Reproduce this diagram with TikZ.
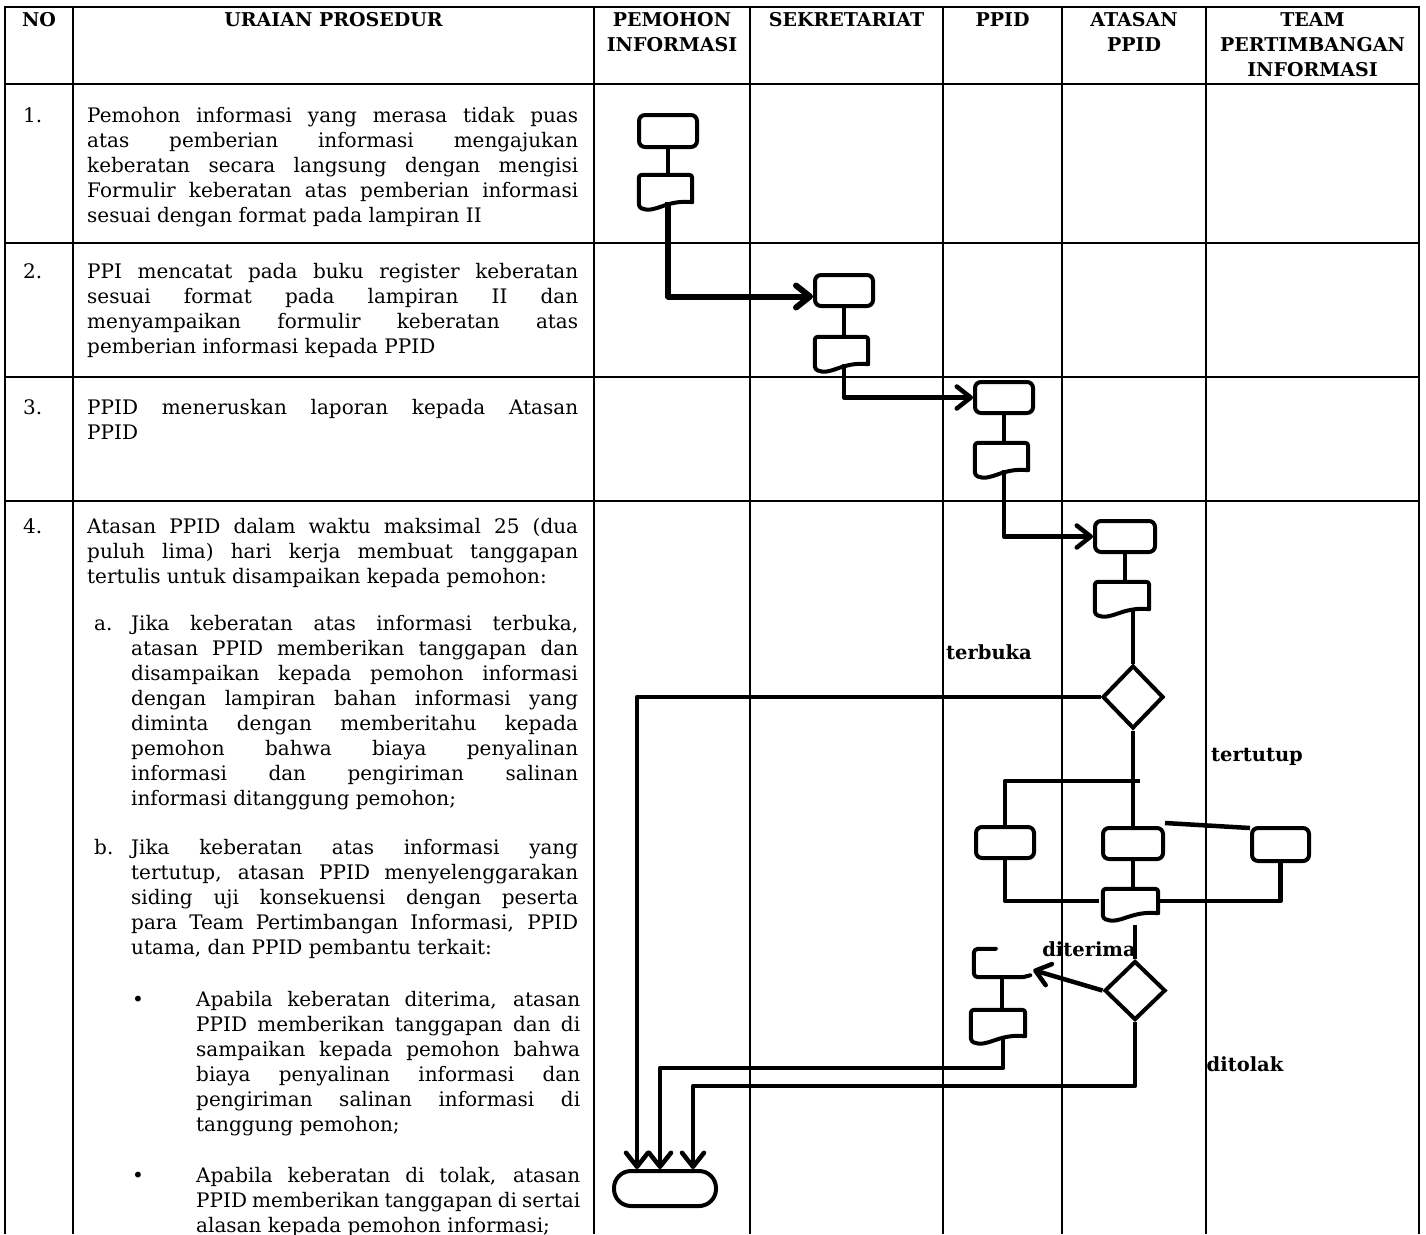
\documentclass[tikz,border=0pt]{standalone}
\usepackage{fontspec}
\setmainfont{DejaVu Serif}
\usetikzlibrary{arrows.meta,shapes.geometric,calc}
\setlength{\parindent}{0pt}
\tolerance=9999
\hyphenpenalty=10000
\exhyphenpenalty=10000
\hfuzz=20pt
\newcommand\bodyfont{\fontsize{20}{25}\selectfont}
\newcommand\hdfont{\bfseries\fontsize{19}{22}\selectfont}
\newcommand\lblfont{\bfseries\fontsize{19.5}{21}\selectfont}
\newcommand\para[5]{\node[paratext, text width=#4pt] (#1) at (#2,{#3-17.5}) {\strut #5};}
\newcommand\docpath[1]{\draw[shp, rounded corners=3pt] (#1.south east) -- (#1.north east) -- (#1.north west) -- ($(#1.south west)+(0,5)$) [sharp corners] .. controls ($(#1.south west)!0.3!(#1.south east)+(0,12)$) and ($(#1.south west)!0.5!(#1.south east)+(0,-3)$) .. (#1.south east) -- cycle;}
\tikzset{
  gridline/.style={line width=2pt},
  hd/.style={font=\hdfont, anchor=base, inner sep=0pt},
  num/.style={font=\bodyfont, anchor=base west, inner sep=0pt},
  paratext/.style={anchor=north west, inner sep=0pt, align=justify, font=\bodyfont},
  lbl/.style={font=\lblfont, inner sep=0pt},
  shp/.style={line width=4pt, line join=round, line cap=round},
  fbox/.style={draw, line width=4pt, rounded corners=6pt, inner sep=0pt},
  docbox/.style={inner sep=0pt},
  flow/.style={line width=4.5pt, line join=round},
  flowthick/.style={line width=6pt, line join=round},
  arr/.style={-{Straight Barb[length=14pt,width=22pt,round]}},
}
\begin{document}
\begin{tikzpicture}[x=1pt,y=-1pt]
\useasboundingbox (0,0) rectangle (1426,1234);
% ---------------- table grid
\draw[gridline] (5,1234) -- (5,7) -- (1419,7) -- (1419,1234);
\foreach \xx in {73,594,750,943,1062,1206} \draw[gridline] (\xx,7) -- (\xx,1234);
\foreach \yy in {84,243,377,501} \draw[gridline] (5,\yy) -- (1419,\yy);
% ---------------- header
\node[hd] (hNo) at (39,26) {NO};
\node[hd] (hUr) at (333.5,26) {URAIAN PROSEDUR};
\node[hd] (hPa) at (672,26) {PEMOHON};
\node[hd] (hPb) at (672,51) {INFORMASI};
\node[hd] (hSe) at (846.5,26) {SEKRETARIAT};
\node[hd] (hPp) at (1002.5,26) {PPID};
\node[hd] (hAa) at (1134,26) {ATASAN};
\node[hd] (hAb) at (1134,51) {PPID};
\node[hd] (hTa) at (1312.5,26) {TEAM};
\node[hd] (hTb) at (1312.5,51) {PERTIMBANGAN};
\node[hd] (hTc) at (1312.5,76) {INFORMASI};
% ---------------- numbers
\node[num] (n1) at (23,122) {1.};
\node[num] (n2) at (23,278) {2.};
\node[num] (n3) at (23,414) {3.};
\node[num] (n4) at (23,533) {4.};
% ---------------- procedure texts
\para{t1}{87}{122}{491}{Pemohon informasi yang merasa tidak puas\linebreak atas pemberian informasi mengajukan\linebreak keberatan secara langsung dengan mengisi\linebreak Formulir keberatan atas pemberian informasi\linebreak sesuai dengan format pada lampiran II}
\para{t2}{87}{278}{491}{PPI mencatat pada buku register keberatan\linebreak sesuai format pada lampiran II dan\linebreak menyampaikan formulir keberatan atas\linebreak pemberian informasi kepada PPID}
\para{t3}{87}{414}{491}{PPID meneruskan laporan kepada Atasan\linebreak PPID}
\para{t4}{87}{533}{491}{Atasan PPID dalam waktu maksimal 25 (dua\linebreak puluh lima) hari kerja membuat tanggapan\linebreak tertulis untuk disampaikan kepada pemohon:}
\node[num] (la) at (94,630) {a.};
\para{t4a}{131}{630}{447}{Jika keberatan atas informasi terbuka,\linebreak atasan PPID memberikan tanggapan dan\linebreak disampaikan kepada pemohon informasi\linebreak dengan lampiran bahan informasi yang\linebreak diminta dengan memberitahu kepada\linebreak pemohon bahwa biaya penyalinan\linebreak informasi dan pengiriman salinan\linebreak informasi ditanggung pemohon;}
\node[num] (lb) at (94,854) {b.};
\para{t4b}{131}{854}{447}{Jika keberatan atas informasi yang\linebreak tertutup, atasan PPID menyelenggarakan\linebreak siding uji konsekuensi dengan peserta\linebreak para Team Pertimbangan Informasi, PPID\linebreak utama, dan PPID pembantu terkait:}
\node[num] (bu1) at (132,1006) {\textbullet};
\para{t4c}{196}{1006}{384}{Apabila keberatan diterima, atasan\linebreak PPID memberikan tanggapan dan di\linebreak sampaikan kepada pemohon bahwa\linebreak biaya penyalinan informasi dan\linebreak pengiriman salinan informasi di\linebreak tanggung pemohon;}
\node[num] (bu2) at (132,1182) {\textbullet};
\para{t4d}{196}{1182}{384}{Apabila keberatan di tolak, atasan\linebreak \hbox to 384pt{PPID\hfil memberikan\hfil tanggapan\hfil di\hfil sertai}\linebreak alasan kepada pemohon informasi;}
% ---------------- flow shapes
\node[fbox, minimum width=58pt, minimum height=32pt] (A1) at (668,131) {};
\node[docbox, minimum width=53pt, minimum height=27pt] (D1) at (665.5,188.5) {};
\node[fbox, minimum width=58pt, minimum height=31pt] (S1) at (844,290.5) {};
\node[docbox, minimum width=53pt, minimum height=27pt] (S2) at (841.5,350.5) {};
\node[fbox, minimum width=58pt, minimum height=31pt] (P1) at (1004,397.5) {};
\node[docbox, minimum width=53pt, minimum height=27pt] (P2) at (1001.5,456.5) {};
\node[fbox, minimum width=60pt, minimum height=31pt] (AT1) at (1125,536.5) {};
\node[docbox, minimum width=54pt, minimum height=27pt] (AT2) at (1122,595.5) {};
\node[diamond, draw, line width=4pt, inner sep=0pt, minimum width=61pt, minimum height=63pt] (d1) at (1133,697) {};
\node[fbox, minimum width=58pt, minimum height=31pt] (L) at (1005,842.5) {};
\node[fbox, minimum width=60pt, minimum height=31pt] (M) at (1133,843.5) {};
\node[fbox, minimum width=57pt, minimum height=33pt] (R) at (1280.5,844.5) {};
\node[docbox, minimum width=55pt, minimum height=24pt] (M2) at (1130.5,901) {};
\node[diamond, draw, line width=4pt, inner sep=0pt, minimum width=61pt, minimum height=59pt] (d2) at (1135,990.5) {};
\node[docbox, minimum width=56pt, minimum height=28pt] (dt) at (1002,963) {};
\node[docbox, minimum width=54pt, minimum height=26pt] (DD2) at (998,1023) {};
\node[fbox, rounded corners=17pt, minimum width=102pt, minimum height=35pt] (term) at (665,1188.5) {};
\docpath{D1}
\docpath{S2}
\docpath{P2}
\docpath{AT2}
\docpath{M2}
\docpath{DD2}
\draw[shp, rounded corners=4pt] ($(dt.north west)+(22,0)$) -- (dt.north west) -- (dt.south west) -- ($(dt.south east)+(-6,0)$) [sharp corners] -- ($(dt.south east)+(0,-2)$);
% ---------------- coordinates
\coordinate (jn) at (1140,781);
\coordinate (tA) at ($(term.north)+(-28,0)$);
\coordinate (tB) at ($(term.north)+(-5,0)$);
\coordinate (tC) at ($(term.north)+(28,0)$);
\coordinate (kB) at (660,1068);
\coordinate (kC) at (693,1086);
\coordinate (m2out) at ($(d2.north |- M2.south)+(0,12)$);
% ---------------- connectors
\draw[shp] (A1.south) -- (A1.south |- D1.north);
\draw[flowthick, arr] (A1.south |- D1.south) |- ($(S1.west)+(0,6)$);
\draw[shp] (S1.south) -- (S1.south |- S2.north);
\draw[flow, arr] (S1.south |- S2.south) |- (P1.west);
\draw[shp] (P1.south) -- (P1.south |- P2.north);
\draw[flow, arr] (P1.south |- P2.south) |- (AT1.west);
\draw[shp] (AT1.south) -- (AT1.south |- AT2.north);
\draw[flow] (d1.north |- AT2.south) -- (d1.north);
\draw[flow] (d1.south) -- (d1.south |- M.north);
\draw[flow] (L.north) |- (jn);
\draw[flow] ($(M.north east)+(0,-3)$) -- ($(R.north west)+(0,2)$);
\draw[flow] (L.south) |- ($(M2.west)+(-4,0)$);
\draw[flow] (R.south) |- (M2.east);
\draw[shp] (M.south) -- (M.south |- M2.north);
\draw[flow] (m2out) -- (d2.north);
\draw[flow, arr] (d2.west) -- ($(dt.east)+(3,7)$);
\draw[shp] (dt.south) -- (dt.south |- DD2.north);
\draw[flow, arr] (d1.west) -| (tA);
\draw[flow, arr] ($(DD2.south)+(5,0)$) |- (kB) -- (tB);
\draw[flow, arr] (d2.south) |- (kC) -- (tC);
% ---------------- labels
\node[lbl] (lterbuka) at (989,652) {terbuka};
\node[lbl] (ltertutup) at (1257,757) {tertutup};
\node[lbl] (lditerima) at (1089,949) {diterima};
\node[lbl] (lditolak) at (1245,1064) {ditolak};
\end{tikzpicture}
\end{document}
